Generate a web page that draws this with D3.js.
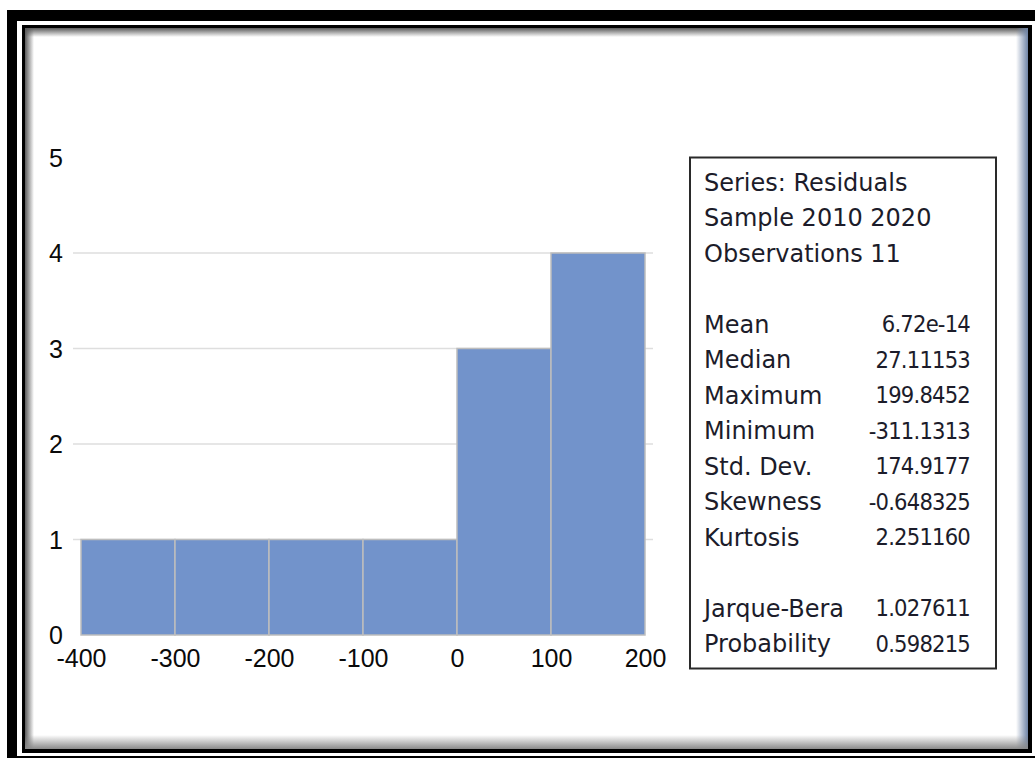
<!DOCTYPE html>
<html>
<head>
<meta charset="utf-8">
<script src="https://cdn.jsdelivr.net/npm/d3@7"></script>
<style>
  html, body { margin: 0; padding: 0; background: #fff; }
  svg { display: block; }
</style>
</head>
<body>
<svg id="chart" width="1035" height="758"></svg>
<script>
// Histogram of regression residuals with a descriptive statistics panel
const binEdges = [-400, -300, -200, -100, 0, 100, 200];
const binCounts = [1, 1, 1, 1, 3, 4];
const xTicks = [-400, -300, -200, -100, 0, 100, 200];
const yTicks = [0, 1, 2, 3, 4, 5];
const gridValues = [1, 2, 3, 4];

const headerLines = ["Series: Residuals", "Sample 2010 2020", "Observations 11"];
const statNames = ["Mean", "Median", "Maximum", "Minimum", "Std. Dev.", "Skewness", "Kurtosis"];
const statValues = ["6.72e-14", "27.11153", "199.8452", "-311.1313", "174.9177", "-0.648325", "2.251160"];
const testNames = ["Jarque-Bera", "Probability"];
const testValues = ["1.027611", "0.598215"];

const svg = d3.select("#chart");
const defs = svg.append("defs");

// ---- framed border with inner shadow ----
svg.append("rect").attr("x", 7).attr("y", 10).attr("width", 1200).attr("height", 1000).attr("fill", "#000");
svg.append("rect").attr("x", 17).attr("y", 21).attr("width", 1018).attr("height", 735).attr("fill", "#fff");
svg.append("rect").attr("x", 22).attr("y", 25).attr("width", 1010).attr("height", 728).attr("fill", "#000");
svg.append("rect").attr("x", 25).attr("y", 28).attr("width", 1003).attr("height", 721).attr("fill", "#fff");

function grad(id, x1, y1, x2, y2, c) {
  const g = defs.append("linearGradient").attr("id", id)
    .attr("x1", x1).attr("y1", y1).attr("x2", x2).attr("y2", y2);
  g.append("stop").attr("offset", "0").attr("stop-color", c).attr("stop-opacity", 1);
  g.append("stop").attr("offset", "1").attr("stop-color", c).attr("stop-opacity", 0);
}
grad("shTop", 0, 0, 0, 1, "#5a5a5a");
grad("shLeft", 0, 0, 1, 0, "#5a5a5a");
grad("shRight", 1, 0, 0, 0, "#6f84a6");
grad("shBottom", 0, 1, 0, 0, "#8a8a8a");
svg.append("rect").attr("x", 25).attr("y", 28).attr("width", 1003).attr("height", 9).attr("fill", "url(#shTop)");
svg.append("rect").attr("x", 25).attr("y", 28).attr("width", 9).attr("height", 721).attr("fill", "url(#shLeft)");
svg.append("rect").attr("x", 1016).attr("y", 28).attr("width", 12).attr("height", 721).attr("fill", "url(#shRight)");
svg.append("rect").attr("x", 25).attr("y", 735).attr("width", 1003).attr("height", 14).attr("fill", "url(#shBottom)");

// ---- histogram ----
const x = d3.scaleLinear().domain([-400, 200]).range([81, 645]);
const y = d3.scaleLinear().domain([0, 5]).range([635, 157.5]);

const plot = svg.append("g");

plot.selectAll("line.grid").data(gridValues).join("line")
  .attr("class", "grid")
  .attr("x1", 73).attr("x2", 653)
  .attr("y1", d => y(d)).attr("y2", d => y(d))
  .attr("stroke", "#dedede").attr("stroke-width", 1.5);

const bins = binCounts.map((c, i) => ({ x0: binEdges[i], x1: binEdges[i + 1], count: c }));
plot.selectAll("rect.bar").data(bins).join("rect")
  .attr("class", "bar")
  .attr("x", d => x(d.x0))
  .attr("y", d => y(d.count))
  .attr("width", d => x(d.x1) - x(d.x0))
  .attr("height", d => y(0) - y(d.count))
  .attr("fill", "#7293cb")
  .attr("stroke", "#bdbdbd").attr("stroke-width", 1.5);

const axisFont = "'Liberation Sans', Arial, sans-serif";
const plain = d => String(d);

// y axis labels (no axis line)
const yAxis = d3.axisLeft(y).tickValues(yTicks).tickFormat(plain).tickSize(0).tickPadding(0);
const yg = plot.append("g").attr("transform", "translate(63,0)").call(yAxis);
yg.select(".domain").remove();
yg.selectAll("text")
  .attr("font-family", axisFont)
  .attr("font-size", 25).attr("fill", "#0a0a0a").attr("dy", "0.35em");

// x axis labels (no axis line)
const xAxis = d3.axisBottom(x).tickValues(xTicks).tickFormat(plain).tickSize(0).tickPadding(0);
const xg = plot.append("g").attr("transform", "translate(0,647)").call(xAxis);
xg.select(".domain").remove();
xg.selectAll("text")
  .attr("font-family", axisFont)
  .attr("font-size", 25).attr("fill", "#0a0a0a").attr("dy", "0.8em");

// ---- statistics panel ----
const panel = svg.append("g");
panel.append("rect")
  .attr("x", 690).attr("y", 157.5).attr("width", 306).attr("height", 511)
  .attr("fill", "#fff").attr("stroke", "#2a2a2a").attr("stroke-width", 2);

const rowY = i => 182 + 35.5 * i;
const textFont = "'DejaVu Sans', Verdana, sans-serif";
const textSize = 24;
const textColor = "#1c1c2a";

panel.selectAll("text.head").data(headerLines).join("text")
  .attr("class", "head")
  .attr("x", 704).attr("y", (d, i) => rowY(i)).attr("dy", "0.36em")
  .attr("font-family", textFont).attr("font-size", textSize).attr("fill", textColor)
  .text(d => d);

const rows = statNames.map((n, i) => ({ name: n, value: statValues[i], row: 4 + i }))
  .concat(testNames.map((n, i) => ({ name: n, value: testValues[i], row: 12 + i })));

panel.selectAll("text.name").data(rows).join("text")
  .attr("class", "name")
  .attr("x", 704).attr("y", d => rowY(d.row)).attr("dy", "0.36em")
  .attr("font-family", textFont).attr("font-size", textSize).attr("fill", textColor)
  .text(d => d.name);

panel.selectAll("text.value").data(rows).join("text")
  .attr("class", "value")
  .attr("x", 970).attr("y", d => rowY(d.row)).attr("dy", "0.36em")
  .attr("text-anchor", "end")
  .attr("font-family", textFont).attr("font-stretch", "condensed")
  .attr("font-size", 23.5).attr("fill", textColor)
  .attr("letter-spacing", -0.8)
  .text(d => d.value);
</script>
</body>
</html>
